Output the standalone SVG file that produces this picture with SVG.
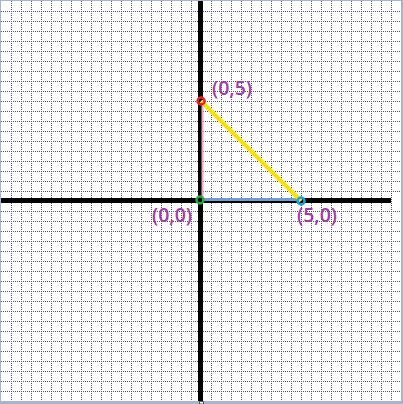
<svg xmlns="http://www.w3.org/2000/svg" width="403" height="404" viewBox="0 0 403 404">
<defs>
<style>
.g{stroke:#555;stroke-width:1;stroke-dasharray:1 1;fill:none}
.ax{stroke:#000;stroke-width:5;fill:none}
.lbl{font-family:"Open Sans","Liberation Sans",sans-serif;font-size:19.5px;font-weight:600;fill:#9a40a8}
.pt{fill:none;stroke-width:2.5}
</style>
</defs>
<rect width="403" height="404" fill="#fff"/>
<g id="grid-lines">
<path class="g" d="M11.5 1V400M21.5 1V400M31.5 1V400M41.5 1V400M51.5 1V400M61.5 1V400M71.5 1V400M81.5 1V400M91.5 1V400M101.5 1V400M111.5 1V400M121.5 1V400M131.5 1V400M141.5 1V400M151.5 1V400M161.5 1V400M171.5 1V400M181.5 1V400M191.5 1V400M211.5 1V400M221.5 1V400M231.5 1V400M241.5 1V400M251.5 1V400M261.5 1V400M271.5 1V400M281.5 1V400M291.5 1V400M301.5 1V400M311.5 1V400M321.5 1V400M331.5 1V400M341.5 1V400M351.5 1V400M361.5 1V400M371.5 1V400M381.5 1V400M391.5 1V400"/>
<path class="g" d="M1 11.5H401M1 21.5H401M1 31.5H401M1 41.5H401M1 51.5H401M1 61.5H401M1 71.5H401M1 81.5H401M1 91.5H401M1 101.5H401M1 111.5H401M1 121.5H401M1 131.5H401M1 141.5H401M1 151.5H401M1 161.5H401M1 171.5H401M1 181.5H401M1 191.5H401M1 211.5H401M1 221.5H401M1 231.5H401M1 241.5H401M1 251.5H401M1 261.5H401M1 271.5H401M1 281.5H401M1 291.5H401M1 301.5H401M1 311.5H401M1 321.5H401M1 331.5H401M1 341.5H401M1 351.5H401M1 361.5H401M1 371.5H401M1 381.5H401M1 391.5H401"/>
</g>
<g id="axes">
<path class="ax" d="M200.5 0V401"/>
<path class="ax" d="M0 200.5H391"/>
</g>
<g id="connectors">
<line x1="202.5" y1="101" x2="202.5" y2="198" stroke="#f4a6c0" stroke-width="2"/>
<line x1="203" y1="199.5" x2="301" y2="199.5" stroke="#6e9fd4" stroke-width="3"/>
<line x1="201" y1="101" x2="301" y2="201" stroke="#f5e400" stroke-width="4"/>
</g>
<g id="p00">
<circle class="pt" cx="200" cy="200" r="3.5" stroke="#2aa84a"/>
<text class="lbl" x="152" y="222">(0,0)</text>
</g>
<g id="p05">
<circle class="pt" cx="201" cy="101" r="3.5" stroke="#e8202a"/>
<text class="lbl" x="212" y="95">(0,5)</text>
</g>
<g id="p50">
<circle class="pt" cx="301" cy="201" r="3.5" stroke="#1aa0e0"/>
<text class="lbl" x="297" y="222">(5,0)</text>
</g>
<g id="frame">
<rect x="0.5" y="0.5" width="401" height="401" fill="none" stroke="#a7b4cc" stroke-width="1"/>
<rect x="0" y="401" width="403" height="3" fill="#a7b4cc"/>
<rect x="401" y="0" width="2" height="404" fill="#a7b4cc"/>
<rect x="199.5" y="401.5" width="4" height="2.5" fill="#fff" stroke="#555" stroke-width="1"/>
</g>
</svg>
